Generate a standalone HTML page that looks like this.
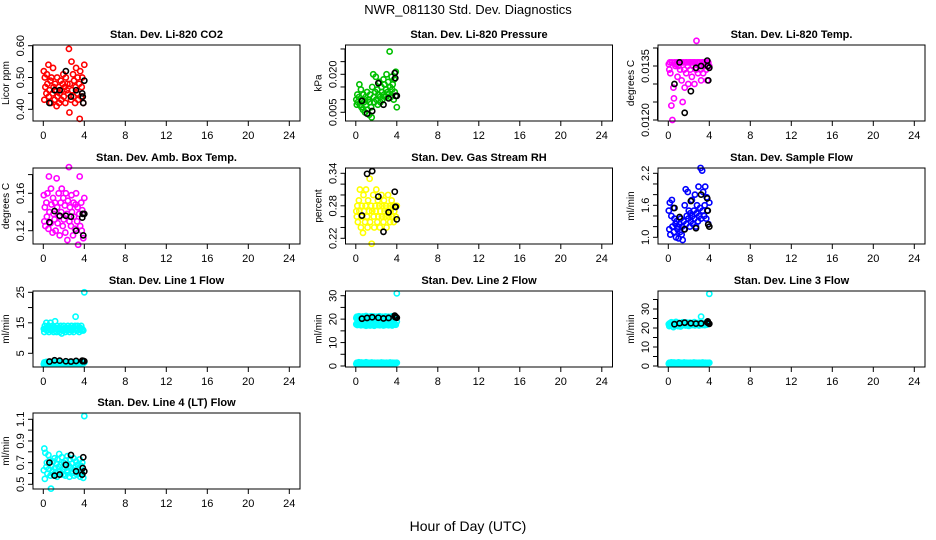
<!DOCTYPE html>
<html><head><meta charset="utf-8"><style>
html,body{margin:0;padding:0;background:#fff;}
svg{display:block;font-family:"Liberation Sans",Arial,sans-serif;}
</style></head><body>
<svg id="chart" width="936" height="540" viewBox="0 0 936 540">
<rect width="936" height="540" fill="#fff"/>
<text x="468" y="14" text-anchor="middle" font-size="13">NWR_081130  Std. Dev. Diagnostics</text>
<text x="468" y="531" text-anchor="middle" font-size="14">Hour of Day (UTC)</text>
</svg>
<script>
const hours=[0.05,0.1,0.15,0.2,0.3,0.35,0.4,0.5,0.55,0.6,0.7,0.75,0.8,0.9,0.95,1.0,1.1,1.15,1.2,1.3,1.35,1.4,1.5,1.55,1.6,1.7,1.75,1.8,1.9,1.95,2.0,2.1,2.15,2.2,2.3,2.35,2.4,2.5,2.55,2.6,2.7,2.75,2.8,2.9,2.95,3.0,3.1,3.15,3.2,3.3,3.35,3.4,3.5,3.55,3.6,3.7,3.75,3.8,3.9,4.0];
const blackHours=[0.6,1.1,1.6,2.2,2.7,3.2,3.8,3.85,3.9,4.0];
const co2=[0.52,0.43,0.50,0.47,0.45,0.51,0.48,0.54,0.44,0.46,0.49,0.42,0.50,0.45,0.53,0.47,0.43,0.48,0.46,0.41,0.50,0.44,0.47,0.42,0.45,0.49,0.43,0.46,0.48,0.51,0.44,0.47,0.42,0.50,0.46,0.48,0.45,0.59,0.39,0.48,0.43,0.55,0.46,0.51,0.44,0.49,0.42,0.47,0.53,0.45,0.50,0.43,0.48,0.37,0.52,0.44,0.47,0.50,0.42,0.54];
const co2Black=[0.42,0.46,0.46,0.52,0.44,0.46,0.45,0.44,0.42,0.49];
const pressure=[0.010,0.008,0.012,0.009,0.011,0.016,0.008,0.014,0.007,0.010,0.006,0.012,0.009,0.005,0.011,0.008,0.013,0.006,0.010,0.004,0.009,0.012,0.007,0.003,0.015,0.020,0.011,0.009,0.013,0.019,0.010,0.014,0.008,0.012,0.017,0.011,0.009,0.015,0.013,0.010,0.018,0.012,0.016,0.011,0.014,0.020,0.013,0.017,0.012,0.029,0.015,0.011,0.019,0.014,0.016,0.010,0.018,0.013,0.021,0.007];
const pressureBlack=[0.0095,0.0045,0.0055,0.0165,0.008,0.0105,0.0205,0.0185,0.0115,0.0115];
const liTemp=[0.01355,0.0134,0.0136,0.0133,0.0124,0.0136,0.0120,0.0129,0.0126,0.0136,0.0135,0.01355,0.0136,0.0132,0.0136,0.0135,0.0136,0.0134,0.0136,0.0131,0.0136,0.0125,0.0136,0.0134,0.0129,0.0136,0.0133,0.0136,0.0135,0.0130,0.0136,0.0136,0.0134,0.0136,0.0132,0.0136,0.0135,0.0136,0.0130,0.0136,0.0134,0.0142,0.0136,0.0133,0.0136,0.0135,0.0136,0.0134,0.0131,0.0136,0.0136,0.0133,0.0136,0.0135,0.0136,0.0134,0.0136,0.0131,0.0136,0.0135];
const liTempBlack=[0.0130,0.0136,0.0122,0.0128,0.01345,0.0135,0.01365,0.0135,0.0131,0.01345];
const ambTemp=[0.158,0.130,0.145,0.125,0.150,0.135,0.160,0.122,0.178,0.140,0.128,0.165,0.148,0.118,0.155,0.138,0.132,0.150,0.120,0.176,0.145,0.128,0.160,0.135,0.115,0.150,0.140,0.165,0.125,0.155,0.132,0.147,0.118,0.160,0.138,0.110,0.152,0.188,0.130,0.145,0.125,0.158,0.140,0.115,0.150,0.135,0.122,0.148,0.160,0.130,0.145,0.105,0.138,0.178,0.125,0.150,0.120,0.142,0.112,0.155];
const ambTempBlack=[0.129,0.141,0.136,0.136,0.135,0.120,0.134,0.138,0.115,0.138];
const rh=[0.27,0.26,0.28,0.25,0.29,0.27,0.31,0.24,0.26,0.28,0.23,0.30,0.27,0.25,0.28,0.31,0.26,0.24,0.29,0.27,0.33,0.25,0.28,0.21,0.27,0.30,0.26,0.24,0.28,0.27,0.31,0.25,0.29,0.26,0.28,0.24,0.27,0.30,0.26,0.28,0.25,0.29,0.27,0.26,0.28,0.24,0.27,0.30,0.26,0.28,0.25,0.27,0.29,0.26,0.28,0.25,0.27,0.28,0.26,0.28];
const rhBlack=[0.262,0.339,0.344,0.297,0.232,0.268,0.306,0.278,0.278,0.255];
const sampleFlow=[1.50,1.15,1.65,1.05,1.40,1.70,1.20,1.55,1.10,1.35,1.25,1.00,1.30,1.15,1.20,0.98,1.25,1.10,1.35,1.05,1.20,0.95,1.30,1.15,1.60,1.90,1.25,1.40,1.85,1.35,1.50,1.20,1.45,1.30,1.70,1.40,1.25,1.50,1.35,1.80,1.20,1.45,1.60,1.30,1.95,1.40,1.55,2.30,1.35,2.25,1.50,1.85,1.40,1.60,1.95,1.35,1.75,1.50,1.25,1.65];
const sampleFlowBlack=[1.55,1.38,1.15,1.68,1.17,1.80,1.73,1.50,1.24,1.20];
const lowBand=[1.5,2.0,1.7,1.8,2.2,1.6,1.9,1.7,2.1,1.8,1.6,2.0,1.7,1.9,1.8,2.2,1.6,1.8,2.0,1.7,1.9,1.8,1.6,2.1,1.7,1.9,1.8,2.0,1.6,1.8,1.9,1.7,2.0,1.8,1.6,1.9,1.8,2.1,1.7,1.8,2.0,1.6,1.9,1.8,1.7,2.0,1.8,1.6,1.9,1.7,2.1,1.8,1.9,1.7,2.0,1.8,1.6,1.9,1.8,2.0];
const line1=[13,12,14,13,15,12.5,13.5,14,12,13,15,13,12.5,14,13,12,13.5,15.5,13,12,14,13,12.5,13.5,12,14,13,11.5,13,12.5,14,13,12,13.5,13,12.5,14,13,12,13.5,13,14,12.5,13,12,13.5,14,17,13,12.5,14,13,12,13.5,13,14,12.5,13,12.5,25];
const line1Black=[2.3,2.7,2.6,2.4,2.3,2.5,2.6,2.4,2.5,2.4];
const line2a=[20.5,21,20,20.8,21.2,20.3,20.7,21,20.2,20.6,21.1,20.4,20.9,20.1,20.6,21.3,20.5,20.8,20.2,21,20.6,20.4,21.2,20.7,20.3,20.9,21.1,20.5,20.2,20.8,21,20.4,20.7,20.3,21.2,20.6,20.9,20.1,20.5,21,20.7,20.3,20.8,21.1,20.4,20.6,20.9,20.2,21,20.5,20.8,20.3,20.7,21.2,20.4,20.6,20.9,21,20.5,31];
const line2b=[17.8,18.2,17.5,18,17.6,18.3,17.9,17.4,18.1,17.7,18.2,17.5,17.9,18.3,17.6,17.2,18,17.8,17.4,18.1,17.7,17.3,18.2,17.9,17.5,18,17.8,17.2,18.1,17.6,17.9,18.3,17.5,17.8,18,17.4,17.7,18.2,17.6,17.9,17.3,18,17.8,17.5,18.1,17.7,17.9,18.2,17.4,17.8,18,17.6,17.9,17.3,18.1,17.7,17.8,18,17.6,19];
const line2Black=[20.2,20.5,20.8,20.6,20.3,20.5,21.5,20.8,21.0,20.6];
const line3=[22,21,22.5,21.5,23,21.8,22.3,20.5,22.8,21.2,22,23.2,21.6,22.4,21,22.7,21.9,22.2,20.8,22.6,21.4,23,22.1,21.7,22.5,21.3,22.9,22,21.6,22.4,21.1,22.8,21.9,22.3,21.5,22.6,21.8,22.1,23.1,21.4,22.5,21.7,22.2,21.9,22.7,21.3,22.4,22,26,21.6,22.3,21.8,22.6,21.5,22.1,22.9,21.7,22.2,22.4,38];
const line3Black=[22,22.5,22.8,22.5,22.3,22.4,23,23.5,22.6,22.2];
const line4=[0.63,0.83,0.55,0.79,0.66,0.70,0.60,0.77,0.64,0.72,0.58,0.46,0.67,0.62,0.71,0.59,0.74,0.65,0.61,0.69,0.57,0.73,0.66,0.78,0.62,0.68,0.60,0.75,0.64,0.59,0.70,0.66,0.58,0.72,0.63,0.76,0.61,0.67,0.57,0.73,0.65,0.60,0.69,0.62,0.74,0.58,0.66,0.63,0.71,0.59,0.68,0.64,0.61,0.73,0.57,0.67,0.62,0.70,0.56,1.13];
const line4Black=[0.70,0.58,0.59,0.68,0.77,0.62,0.59,0.65,0.75,0.62];
const xTicks=[0,4,8,12,16,20,24];

const NS="http://www.w3.org/2000/svg";
const svg=document.getElementById('chart');
const colLeft=[33,345.5,658], rowTop=[45,168,291,413];
const boxW=267, boxH=76;
function mk(tag,attrs,parent){const e=document.createElementNS(NS,tag);for(const k in attrs)e.setAttribute(k,attrs[k]);(parent||svg).appendChild(e);return e;}

const panels=[
 {c:0,r:0,name:'co2',title:'Stan. Dev. Li-820 CO2',ylab:'Licor ppm',v1:0.40,p1:109.3,v2:0.60,p2:45.7,ticks:[0.40,0.45,0.50,0.55,0.60],labels:['0.40','','0.50','','0.60'],series:[[hours,co2,'#ff0000']],black:co2Black},
 {c:1,r:0,name:'pressure',title:'Stan. Dev. Li-820 Pressure',ylab:'kPa',v1:0.005,p1:112.3,v2:0.020,p2:74.3,ticks:[0.005,0.010,0.015,0.020,0.025,0.030],labels:['0.005','','','0.020','',''],series:[[hours,pressure,'#00c000']],black:pressureBlack},
 {c:2,r:0,name:'li-temp',title:'Stan. Dev. Li-820 Temp.',ylab:'degrees C',v1:0.0120,p1:120,v2:0.0135,p2:66,ticks:[0.0120,0.0125,0.0130,0.0135,0.0140],labels:['0.0120','','','0.0135',''],series:[[hours,liTemp,'#ff00ff']],black:liTempBlack},
 {c:0,r:1,name:'amb-temp',title:'Stan. Dev. Amb. Box Temp.',ylab:'degrees C',v1:0.12,p1:230.7,v2:0.16,p2:193.3,ticks:[0.12,0.14,0.16,0.18],labels:['0.12','','0.16',''],series:[[hours,ambTemp,'#ff00ff']],black:ambTempBlack},
 {c:1,r:1,name:'rh',title:'Stan. Dev. Gas Stream RH',ylab:'percent',v1:0.22,p1:238.3,v2:0.34,p2:173.3,ticks:[0.22,0.24,0.26,0.28,0.30,0.32,0.34],labels:['0.22','','','0.28','','','0.34'],series:[[hours,rh,'#ffff00']],black:rhBlack},
 {c:2,r:1,name:'sample-flow',title:'Stan. Dev. Sample Flow',ylab:'ml/min',v1:1.0,p1:237.3,v2:2.2,p2:173.3,ticks:[1.0,1.2,1.4,1.6,1.8,2.0,2.2],labels:['1.0','','','1.6','','','2.2'],series:[[hours,sampleFlow,'#0000ff']],black:sampleFlowBlack},
 {c:0,r:2,name:'line1',title:'Stan. Dev. Line 1 Flow',ylab:'ml/min',v1:5,p1:353.3,v2:25,p2:292.3,ticks:[5,10,15,20,25],labels:['5','','15','','25'],series:[[hours,line1,'#00ffff'],[hours,lowBand,'#00ffff']],black:line1Black},
 {c:1,r:2,name:'line2',title:'Stan. Dev. Line 2 Flow',ylab:'ml/min',v1:0,p1:366,v2:30,p2:295.7,ticks:[0,5,10,15,20,25,30],labels:['0','','10','','20','','30'],series:[[hours,line2a,'#00ffff'],[hours,line2b,'#00ffff'],[hours,lowBand.map(v=>v-0.6),'#00ffff']],black:line2Black},
 {c:2,r:2,name:'line3',title:'Stan. Dev. Line 3 Flow',ylab:'ml/min',v1:0,p1:366,v2:30,p2:309,ticks:[0,5,10,15,20,25,30,35],labels:['0','','10','','20','','30',''],series:[[hours,line3,'#00ffff'],[hours,lowBand.map(v=>v-0.3),'#00ffff']],black:line3Black},
 {c:0,r:3,name:'line4',title:'Stan. Dev. Line 4 (LT) Flow',ylab:'ml/min',v1:0.5,p1:484.3,v2:1.1,p2:419.3,ticks:[0.5,0.6,0.7,0.8,0.9,1.0,1.1],labels:['0.5','','0.7','','0.9','','1.1'],series:[[hours,line4,'#00ffff']],black:line4Black}
];

panels.forEach(p=>{
  const L=colLeft[p.c], T=rowTop[p.r], B=T+boxH, R=L+boxW;
  const x0=L+10.3, xs=246/24;
  const xScale=h=>x0+h*xs;
  const yScale=v=>p.p1+(v-p.v1)*(p.p2-p.p1)/(p.v2-p.v1);
  const g=mk('g',{});
  
  
  const t=mk('text',{x:(L+R)/2,y:T-7,'text-anchor':'middle','font-size':11,'font-weight':'bold'},g);
  t.textContent=p.title;
  
  
  const yl=mk('text',{transform:`translate(${L-24},${(T+B)/2}) rotate(-90)`,'text-anchor':'middle','font-size':10},g);
  yl.textContent=p.ylab;
  
  
  // y ticks
  const ya=mk('g',{stroke:'#000','stroke-width':1},g);
  
  
  const ty=p.ticks.map(yScale);
  mk('line',{x1:L-0.5,x2:L-0.5,y1:Math.min(...ty),y2:Math.max(...ty)},ya);
  p.ticks.forEach((v,i)=>{
    const y=yScale(v);
    mk('line',{x1:L-5,x2:L,y1:y,y2:y},ya);
    if(p.labels[i]){
      const tl=mk('text',{transform:`translate(${L-9},${y}) rotate(-90)`,'text-anchor':'middle','font-size':11,stroke:'none',fill:'#000'},g);
      tl.textContent=p.labels[i];
      
      
    }
  });
  // x ticks
  const xa=mk('g',{stroke:'#000','stroke-width':1},g);
  
  
  xTicks.forEach(h=>{
    const x=xScale(h);
    mk('line',{x1:x,x2:x,y1:B,y2:B+5},xa);
    const tl=mk('text',{x:x,y:B+18,'text-anchor':'middle','font-size':11,stroke:'none',fill:'#000'},g);
    tl.textContent=h;
    
    
  });
  // points
  const pts=mk('g',{fill:'none','stroke-width':1.6},g);
  
  
  p.series.forEach(s=>{
    s[0].forEach((h,i)=>{
      const c=mk('circle',{cx:xScale(h),cy:yScale(s[1][i]),r:2.6,stroke:s[2]},pts);
      
      
    });
  });
  blackHours.forEach((h,i)=>{
    const c=mk('circle',{cx:xScale(h),cy:yScale(p.black[i]),r:2.6,stroke:'#000'},pts);
    
    
  });
  const box=mk('rect',{x:L,y:T,width:boxW,height:boxH,fill:'none',stroke:'#000','stroke-width':1},g);
  
  
});
</script>
</body></html>
